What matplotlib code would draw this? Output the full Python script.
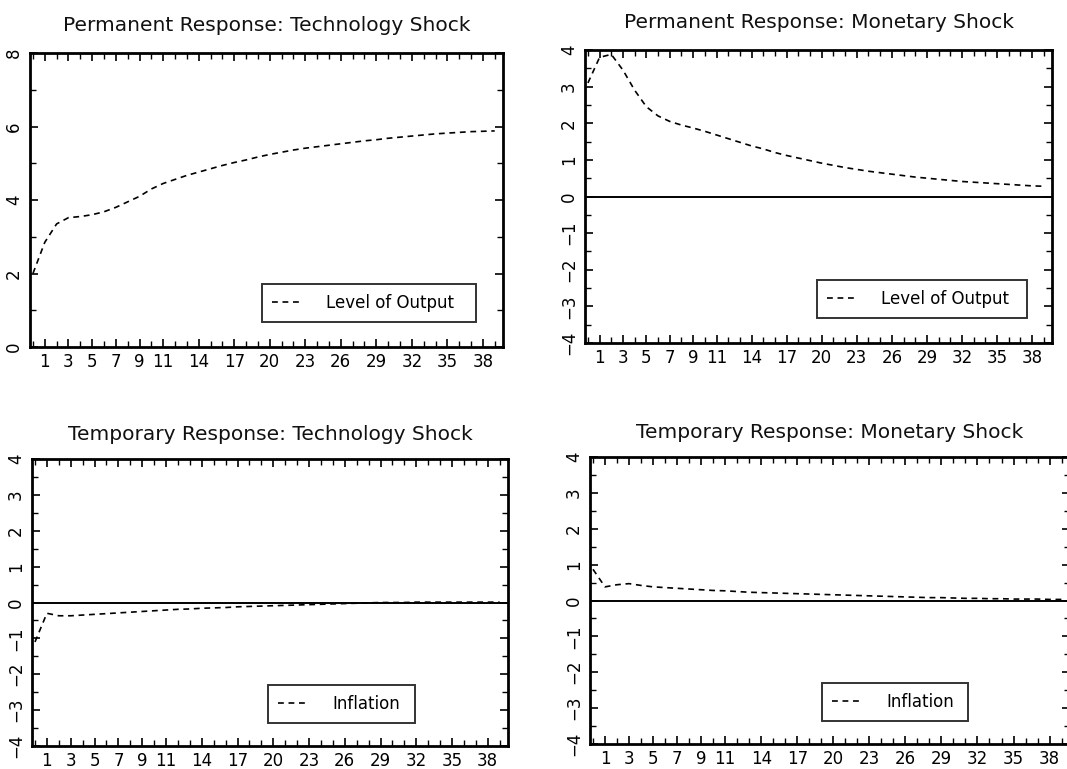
import numpy as np
import matplotlib
matplotlib.use("Agg")
import matplotlib.pyplot as plt
from matplotlib.ticker import MultipleLocator, FixedLocator

plt.rcParams['font.family'] = ['DejaVu Sans']

# impulse-response horizon (periods after the shock)
horizon = np.arange(40)
x_ticks = [1, 3, 5, 7, 9, 11, 14, 17, 20, 23, 26, 29, 32, 35, 38]

# permanent response of output level to a technology shock
perm_tech = [2.00, 2.85, 3.35, 3.52, 3.55, 3.60, 3.68, 3.80, 3.95, 4.10,
             4.30, 4.45, 4.56, 4.67, 4.76, 4.85, 4.94, 5.02, 5.09, 5.17,
             5.24, 5.30, 5.36, 5.41, 5.45, 5.49, 5.53, 5.57, 5.61, 5.64,
             5.68, 5.71, 5.74, 5.77, 5.80, 5.82, 5.84, 5.86, 5.87, 5.88]

# permanent response of output level to a monetary shock
perm_mon = [3.10, 3.80, 3.88, 3.45, 2.90, 2.45, 2.20, 2.05, 1.95, 1.87,
            1.78, 1.68, 1.58, 1.48, 1.38, 1.30, 1.20, 1.12, 1.05, 0.98,
            0.91, 0.85, 0.79, 0.74, 0.69, 0.65, 0.61, 0.57, 0.53, 0.50,
            0.47, 0.44, 0.41, 0.39, 0.37, 0.35, 0.33, 0.31, 0.29, 0.28]

# temporary response of inflation to a technology shock
temp_tech = [-1.10, -0.30, -0.37, -0.37, -0.35, -0.33, -0.31, -0.29, -0.27, -0.25,
             -0.23, -0.21, -0.19, -0.18, -0.16, -0.15, -0.14, -0.12, -0.11, -0.10,
             -0.09, -0.08, -0.07, -0.06, -0.05, -0.04, -0.03, -0.02, -0.01, 0.00,
             0.00, 0.00, 0.01, 0.01, 0.01, 0.01, 0.01, 0.01, 0.01, 0.01]

# temporary response of inflation to a monetary shock
temp_mon = [0.87, 0.38, 0.44, 0.47, 0.42, 0.38, 0.36, 0.34, 0.32, 0.30,
            0.28, 0.27, 0.25, 0.23, 0.22, 0.21, 0.20, 0.19, 0.18, 0.17,
            0.16, 0.15, 0.14, 0.13, 0.12, 0.11, 0.10, 0.09, 0.08, 0.08,
            0.07, 0.06, 0.06, 0.05, 0.05, 0.04, 0.04, 0.04, 0.03, 0.03]

W, H = 1067, 769
fig = plt.figure(figsize=(W / 100, H / 100), dpi=100)


def px_axes(left, top, right, bottom):
    return fig.add_axes([left / W, 1 - bottom / H, (right - left) / W, (bottom - top) / H])


panels = [
    dict(box=(30, 53, 503, 347), title="Permanent Response: Technology Shock",
         y=perm_tech, label="Level of Output", ylim=(0, 8), ystep=2, zero=False,
         leg=(0.49, 0.085, 0.453), pad=16),
    dict(box=(585, 50, 1052, 343), title="Permanent Response: Monetary Shock",
         y=perm_mon, label="Level of Output", ylim=(-4, 4), ystep=1, zero=True,
         leg=(0.497, 0.085, 0.449), pad=16),
    dict(box=(32, 459, 508, 746), title="Temporary Response: Technology Shock",
         y=temp_tech, label="Inflation", ylim=(-4, 4), ystep=1, zero=True,
         leg=(0.496, 0.08, 0.309), pad=14),
    dict(box=(590, 457, 1070, 744), title="Temporary Response: Monetary Shock",
         y=temp_mon, label="Inflation", ylim=(-4, 4), ystep=1, zero=True,
         leg=(0.483, 0.08, 0.305), pad=14),
]

for p in panels:
    ax = px_axes(*p["box"])
    if p["zero"]:
        ax.axhline(0, color="black", lw=1.4, zorder=1)
    ax.plot(horizon, p["y"], color="black", lw=1.2, dashes=(3.5, 2.8),
            label=p["label"], zorder=2)

    ax.set_xlim(-0.25, 39.7)
    ax.set_ylim(*p["ylim"])
    ax.xaxis.set_major_locator(FixedLocator(x_ticks))
    ax.xaxis.set_minor_locator(MultipleLocator(1))
    ax.yaxis.set_major_locator(MultipleLocator(p["ystep"]))
    ax.yaxis.set_minor_locator(MultipleLocator(p["ystep"] / 2))

    ax.tick_params(which="both", direction="in", top=True, right=True,
                   colors="black", labelsize=12)
    ax.tick_params(which="major", length=6, width=1.2)
    ax.tick_params(which="minor", length=4, width=1.0)
    ax.tick_params(axis="x", pad=4)
    ax.tick_params(axis="y", labelrotation=90, pad=5)
    for lab in ax.get_yticklabels():
        lab.set_verticalalignment("center")

    for s in ax.spines.values():
        s.set_linewidth(2.0)
        s.set_color("black")

    ax.set_title(p["title"], fontsize=14.5, pad=p["pad"], color="#111111")

    lx, ly, lw = p["leg"]
    leg = ax.legend(loc="lower left", bbox_to_anchor=(lx, ly, lw, 0.12),
                    mode="expand", fancybox=False, frameon=True,
                    edgecolor="black", fontsize=12, handlelength=1.75,
                    handletextpad=1.5, borderpad=0.6, borderaxespad=0)
    leg.get_frame().set_linewidth(1.4)

fig.savefig("out.png", dpi=100, facecolor="white")
